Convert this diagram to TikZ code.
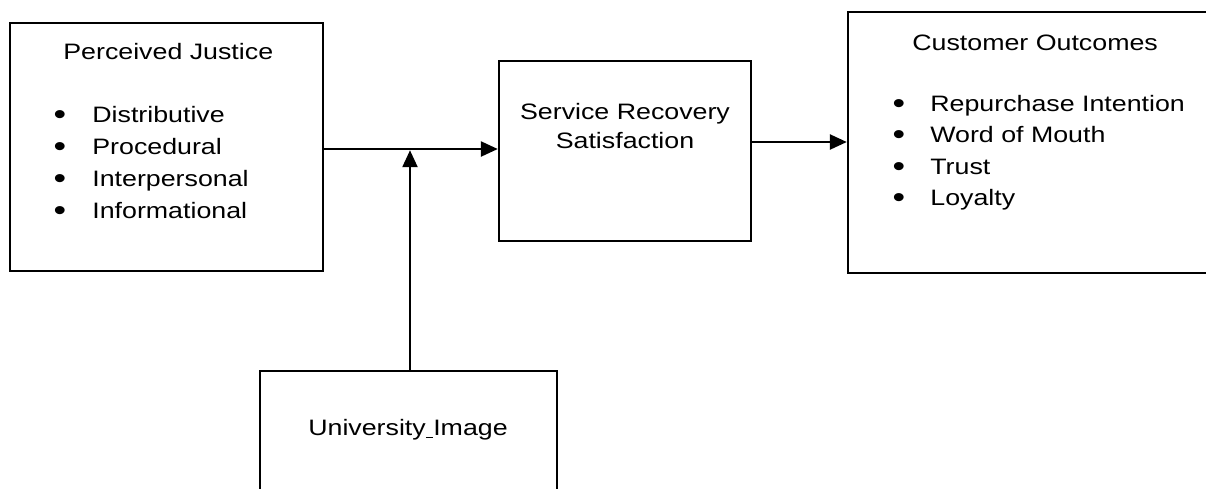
\documentclass[tikz,border=0pt]{standalone}
\usepackage{fontspec}
\setmainfont{Liberation Sans}[FakeStretch=1.2]
\usetikzlibrary{arrows.meta,positioning}

\tikzset{
  box/.style={draw, line width=1.4pt, inner sep=0pt},
  lbl/.style={inner sep=0pt, anchor=base west},
  dot/.style={inner sep=0pt, anchor=base, font=\fontsize{17pt}{18pt}\selectfont},
  arr/.style={line width=1.4pt, -{Triangle[length=0.34cm,width=0.3cm]}}
}

\begin{document}
\begin{tikzpicture}[x=0.02cm, y=-0.02cm, font=\fontsize{12.7pt}{18.2pt}\selectfont]
\useasboundingbox (0,0) rectangle (1206,488);
\clip (0,0) rectangle (1206,488);
%draw the boxes
\node[box, minimum width=6.26cm, minimum height=4.96cm] (pj) at (166.5,147) {};
\node[box, minimum width=5.04cm, minimum height=3.6cm] (srs) at (625,151) {};
\node[box, minimum width=7.36cm, minimum height=5.22cm] (co) at (1032,142.5) {};
\node[box, minimum width=5.94cm, minimum height=2.58cm] (ui) at (408.5,435.5) {};
% Perceived Justice
\node[lbl] (pjtitle) at (63,59) {Perceived Justice};
\foreach \txt [count=\i] in {Distributive, Procedural, Interpersonal, Informational}{
   \node[dot] (pjb\i) at (60,{92+32*\i}) {\textbullet};
   \node[lbl] (pj\i) at (92,{90+32*\i}) {\txt};
}
% Service Recovery Satisfaction
\node[align=center, inner sep=0pt, font=\fontsize{12.7pt}{17pt}\selectfont] (srstext) at (625,126) {Service Recovery\\Satisfaction};
% Customer Outcomes
\node[lbl] (cotitle) at (912,50) {Customer Outcomes};
\foreach \txt [count=\i] in {Repurchase Intention, Word of Mouth, Trust, Loyalty}{
   \node[dot] (cob\i) at (899,{81.5+31.5*\i}) {\textbullet};
   \node[lbl] (co\i) at (930,{79.5+31.5*\i}) {\txt};
}
% University Image
\node[inner sep=0pt, anchor=base] (uitext) at (408,435) {University\underline{\ }Image};
%draw arrows
\coordinate (jn) at (410,149);
\coordinate (out) at (800,142);
\draw[arr] (pj.east |- jn) -- (srs.west |- jn);
\draw[arr] (ui.north -| jn) -- ([yshift=-0.7pt]jn);
\draw[arr] (srs.east |- out) -- (co.west |- out);
\end{tikzpicture}
\end{document}
